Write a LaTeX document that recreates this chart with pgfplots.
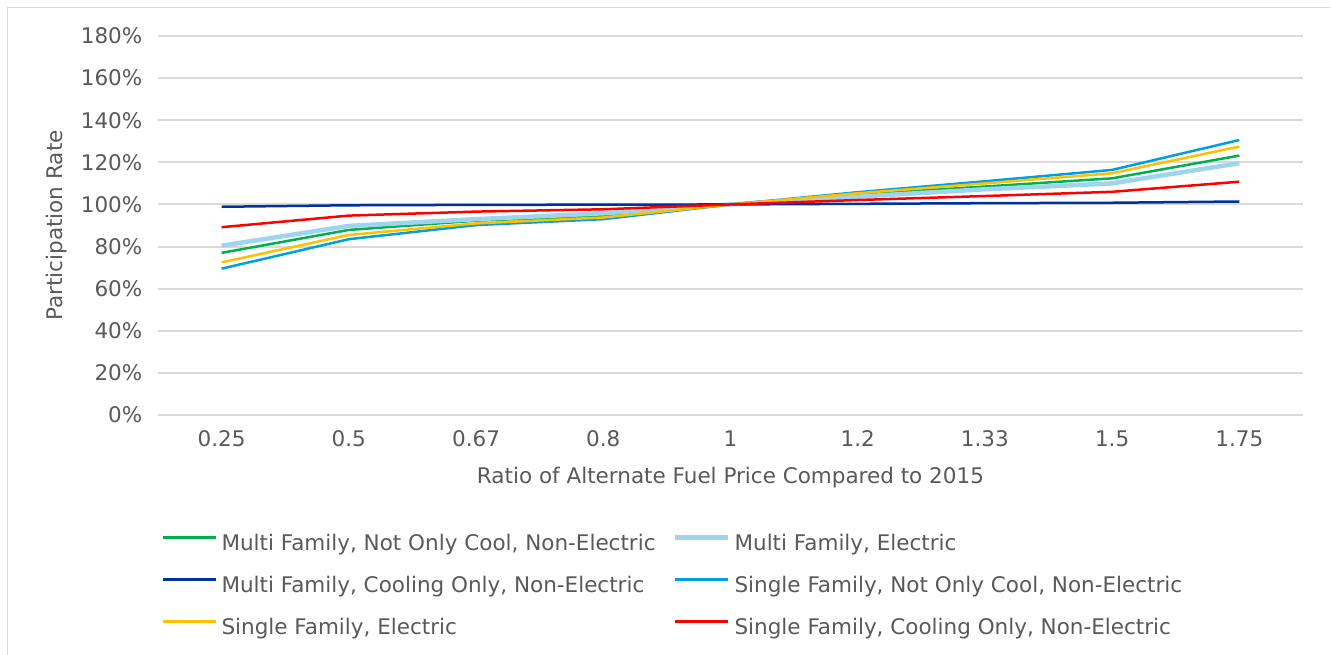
\documentclass[border=0pt]{standalone}
\usepackage{fontspec}
\setmainfont{DejaVu Sans}
\usepackage{pgfplots}
\pgfplotsset{compat=1.18}
\definecolor{txt}{HTML}{595959}
\definecolor{grd}{HTML}{D9D9D9}
\definecolor{cgreen}{HTML}{00B050}
\definecolor{clblue}{HTML}{9DD5EE}
\definecolor{cdblue}{HTML}{003399}
\definecolor{cblue}{HTML}{00A0DD}
\definecolor{cyellow}{HTML}{FFC000}
\definecolor{cred}{HTML}{FF0000}
\begin{document}
\begin{tikzpicture}[x=1pt,y=1pt]
\useasboundingbox (0,0) rectangle (1331,654);
\draw[grd, line width=1.2pt] (7.5,-5) -- (7.5,646.5) -- (1330,646.5);
\begin{axis}[
  at={(158pt,239pt)}, anchor=south west,
  scale only axis, width=1145pt, height=379pt,
  xmin=-0.5, xmax=8.5, ymin=0, ymax=180,
  xtick={0,...,8},
  xticklabels={0.25,0.5,0.67,0.8,1,1.2,1.33,1.5,1.75},
  ytick={0,20,...,180},
  yticklabels={0\%,20\%,40\%,60\%,80\%,100\%,120\%,140\%,160\%,180\%},
  major tick length=0pt,
  axis line style={draw=none},
  ymajorgrids, major grid style={grd, line width=2pt},
  tick label style={font=\fontsize{21.5}{26}\selectfont, text=txt, inner sep=0pt},
  yticklabel style={anchor=east, xshift=-15.5pt},
  xticklabel style={anchor=base, yshift=-31pt},
  label style={font=\fontsize{21.5}{26}\selectfont, text=txt},
  xlabel={Ratio of Alternate Fuel Price Compared to 2015},
  xlabel style={at={(axis description cs:0.5,-0.166)}, anchor=center},
  ylabel={Participation Rate},
  ylabel style={at={(axis description cs:-0.0882,0.5)}, anchor=center, rotate=0},
  legend columns=2,
  legend cell align=left,
  legend style={at={(axis description cs:0.0035,-0.316)}, anchor=north west,
    draw=none, fill=none, inner sep=0pt, outer sep=0pt,
    font=\fontsize{21.5}{26}\selectfont, text=txt,
    nodes={inner sep=0pt, text height=16pt, text depth=5pt},
    row sep=21pt,
    /tikz/every odd column/.append style={column sep=4pt},
    /tikz/every even column/.append style={column sep=17.5pt}},
  legend image code/.code={\draw[#1] (0pt,7.7pt) -- (53pt,7.7pt);},
  every axis plot/.append style={line width=2.5pt, line join=round},
]
\addplot[cgreen] coordinates {(0,77) (1,87.9) (2,92.3) (3,94.5) (4,100) (5,104.7) (6,108.5) (7,112.4) (8,123.2)};
\addlegendentry{Multi Family, Not Only Cool, Non-Electric}
\addplot[clblue, line width=4.5pt] coordinates {(0,80.4) (1,89.8) (2,93) (3,95.8) (4,100) (5,103.7) (6,107.2) (7,110) (8,119.6)};
\addlegendentry{Multi Family, Electric}
\addplot[cdblue] coordinates {(0,98.9) (1,99.6) (2,99.8) (3,99.9) (4,100) (5,100.3) (6,100.6) (7,100.8) (8,101.4)};
\addlegendentry{Multi Family, Cooling Only, Non-Electric}
\addplot[cblue] coordinates {(0,69.5) (1,83.5) (2,90.2) (3,93) (4,100) (5,105.8) (6,111) (7,116.4) (8,130.6)};
\addlegendentry{Single Family, Not Only Cool, Non-Electric}
\addplot[cyellow] coordinates {(0,72.5) (1,85.5) (2,91) (3,93.8) (4,100) (5,105.3) (6,110) (7,114.8) (8,127.5)};
\addlegendentry{Single Family, Electric}
\addplot[cred] coordinates {(0,89.2) (1,94.7) (2,96.6) (3,97.7) (4,100) (5,102.1) (6,104) (7,106) (8,110.8)};
\addlegendentry{Single Family, Cooling Only, Non-Electric}
\end{axis}
\end{tikzpicture}
\end{document}
